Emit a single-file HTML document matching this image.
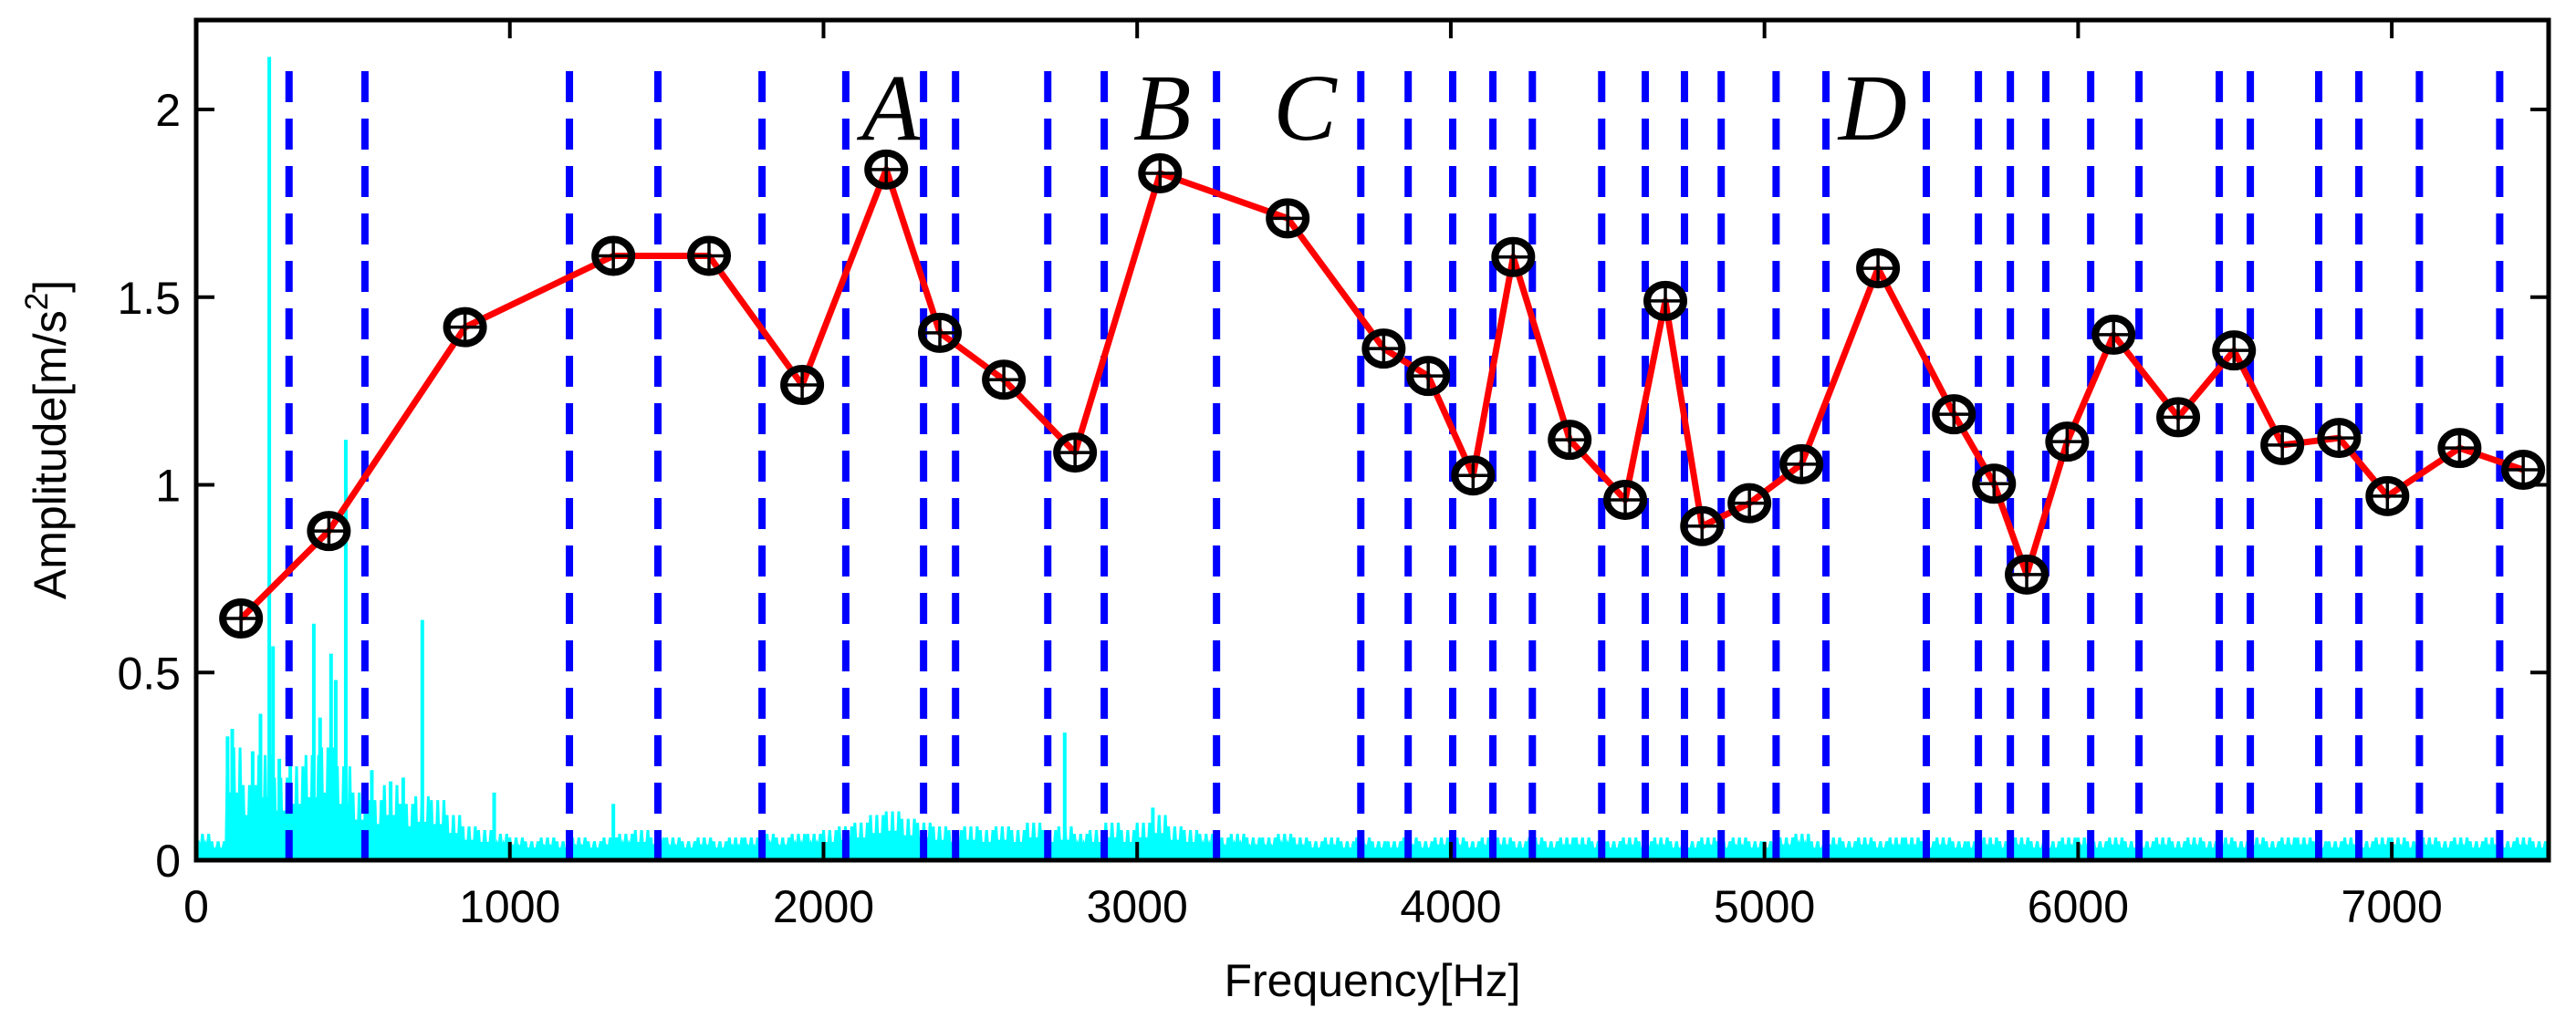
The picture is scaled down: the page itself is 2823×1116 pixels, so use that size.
<!DOCTYPE html>
<html><head><meta charset="utf-8"><style>
html,body{margin:0;padding:0;background:#fff;}
svg{display:block;font-family:"Liberation Sans",sans-serif;}
</style></head><body>
<svg id="chart" width="2823" height="1116" viewBox="0 0 2823 1116" xmlns="http://www.w3.org/2000/svg">
<g id="spec"></g>
<g id="dashes"></g>
<g id="series"></g>
<g id="axes"></g>
<g id="labels"></g>
</svg>
<script>
const xTicks=[0,1000,2000,3000,4000,5000,6000,7000];
const yTicks=[0,0.5,1,1.5,2];
const yTickLabels=["0","0.5","1","1.5","2"];
const peakFreq=[143,423,857,1330,1635,1932,2200,2371,2575,2802,3073,3480,3786,3928,4071,4199,4379,4556,4684,4801,4952,5118,5362,5604,5732,5836,5965,6113,6319,6497,6651,6832,6986,7216,7419];
const peakAmp=[0.644,0.877,1.42,1.61,1.61,1.266,1.84,1.405,1.28,1.086,1.83,1.71,1.363,1.29,1.025,1.607,1.12,0.96,1.49,0.89,0.951,1.055,1.577,1.188,1.003,0.761,1.115,1.40,1.18,1.358,1.106,1.125,0.97,1.098,1.04];
const bandFreq=[296,538,1190,1472,1804,2071,2319,2421,2715,2895,3253,3713,3864,4006,4134,4260,4481,4620,4745,4862,5037,5196,5516,5682,5784,5897,6040,6194,6450,6549,6767,6895,7088,7344];
const specStep=50;
const specHigh=[0.07,0.05,0.30,0.20,0.28,0.22,0.25,0.28,0.30,0.25,
0.18,0.16,0.20,0.15,0.17,0.16,0.12,0.09,0.08,0.07,
0.06,0.05,0.06,0.05,0.06,0.05,0.06,0.07,0.08,0.06,
0.06,0.05,0.06,0.05,0.06,0.06,0.07,0.06,0.07,0.07,
0.08,0.09,0.10,0.12,0.13,0.11,0.10,0.09,0.08,0.09,
0.08,0.09,0.08,0.10,0.08,0.09,0.07,0.08,0.10,0.08,
0.10,0.12,0.09,0.08,0.07,0.06,0.07,0.06,0.06,0.07,
0.06,0.05,0.06,0.05,0.06,0.05,0.05,0.06,0.05,0.06,
0.06,0.05,0.06,0.06,0.05,0.06,0.05,0.06,0.06,0.05,
0.05,0.06,0.05,0.06,0.05,0.05,0.06,0.05,0.06,0.05,
0.05,0.06,0.07,0.05,0.06,0.05,0.06,0.05,0.06,0.06,
0.05,0.06,0.05,0.05,0.06,0.05,0.06,0.05,0.05,0.06,
0.06,0.05,0.06,0.05,0.05,0.06,0.05,0.06,0.05,0.06,
0.05,0.06,0.05,0.06,0.06,0.05,0.05,0.06,0.05,0.06,
0.06,0.05,0.06,0.05,0.06,0.05,0.06,0.05,0.06,0.05];
const spikeFreq=[100,115,180,205,233,245,265,300,375,395,430,445,477,560,620,660,721,950,1330,2769,3050];
const spikeAmp=[0.33,0.35,0.29,0.39,2.14,0.57,0.27,0.26,0.63,0.38,0.55,0.48,1.12,0.24,0.21,0.22,0.64,0.18,0.15,0.34,0.14];
const regionText=["A","B","C","D"];
const regionFreq=[2215,3080,3535,5345];

const L=215,R=2793,T=22,B=943,XMAX=7500,YMAX=(B-T)/411.5;
const NS="http://www.w3.org/2000/svg";
const X=f=>L+f/XMAX*(R-L);
const Y=a=>B-a/YMAX*(B-T);
function mk(tag,attrs,parent){const e=document.createElementNS(NS,tag);for(const k in attrs)e.setAttribute(k,attrs[k]);parent.appendChild(e);return e;}

const spec=document.getElementById('spec');
let d="M"+X(0)+","+Y(0.02);
specHigh.forEach((v,i)=>{
  for(let j=0;j<5;j++){
    const f=i*specStep+j*10;
    const lo=0.02+((j%2)*0.01);
    const hi=v*(j%2===0?1:0.6);
    d+=" L"+X(f).toFixed(1)+","+Y(hi).toFixed(1)+" L"+X(f+5).toFixed(1)+","+Y(lo).toFixed(1);
  }
});
d+=" L"+X(XMAX)+","+Y(0.02)+" L"+X(XMAX)+","+Y(0)+" L"+X(0)+","+Y(0)+"Z";
const band=mk('path',{d:d,fill:'#00ffff',stroke:'#00ffff','stroke-width':3},spec);


spikeFreq.forEach((f,i)=>{
  const s=mk('line',{x1:X(f),x2:X(f),y1:Y(0),y2:Y(spikeAmp[i]),stroke:'#00ffff','stroke-width':4},spec);
  
  
});

const dg=document.getElementById('dashes');
bandFreq.forEach(f=>{
  const l=mk('line',{x1:X(f),x2:X(f),y1:78,y2:B,stroke:'#0000ff','stroke-width':8,'stroke-dasharray':'34 18'},dg);
  
  
});

const sg=document.getElementById('series');
const pl=mk('polyline',{points:peakFreq.map((f,i)=>X(f).toFixed(1)+","+Y(peakAmp[i]).toFixed(1)).join(" "),fill:'none',stroke:'#ff0000','stroke-width':7,'stroke-linejoin':'round'},sg);


peakFreq.forEach((f,i)=>{
  const cx=X(f),cy=Y(peakAmp[i]);
  const g=mk('g',{},sg);
  
  
  mk('line',{x1:cx-17,x2:cx+17,y1:cy,y2:cy,stroke:'#000','stroke-width':3.5},g);
  mk('line',{x1:cx,x2:cx,y1:cy-17,y2:cy+17,stroke:'#000','stroke-width':3.5},g);
  mk('ellipse',{cx:cx,cy:cy,rx:20,ry:18,fill:'none',stroke:'#000','stroke-width':8},g);
});

const ag=document.getElementById('axes');
const fr=mk('rect',{x:L,y:T,width:R-L,height:B-T,fill:'none',stroke:'#000','stroke-width':5},ag);


xTicks.forEach(v=>{
  const x=X(v);
  mk('line',{x1:x,x2:x,y1:B,y2:B-20,stroke:'#000','stroke-width':4},ag);
  mk('line',{x1:x,x2:x,y1:T,y2:T+20,stroke:'#000','stroke-width':4},ag);
  const t=mk('text',{x:x,y:1011,'font-size':50,'text-anchor':'middle'},ag);
  t.textContent=v;
  
  
});
yTicks.forEach((v,i)=>{
  const y=Y(v);
  mk('line',{x1:L,x2:L+20,y1:y,y2:y,stroke:'#000','stroke-width':4},ag);
  mk('line',{x1:R,x2:R-20,y1:y,y2:y,stroke:'#000','stroke-width':4},ag);
  const t=mk('text',{x:198,y:y+18,'font-size':50,'text-anchor':'end'},ag);
  t.textContent=yTickLabels[i];
  
  
});
const xt=mk('text',{x:(L+R)/2,y:1092,'font-size':50,'text-anchor':'middle'},ag);
xt.textContent="Frequency[Hz]";


const yt=mk('text',{x:0,y:0,'font-size':50,'text-anchor':'middle',transform:'translate(72,482) rotate(-90)'},ag);
yt.innerHTML='Amplitude[m/s<tspan dy="-20" font-size="35">2</tspan><tspan dy="20">]</tspan>';



const lg=document.getElementById('labels');
regionText.forEach((s,i)=>{
  const t=mk('text',{x:X(regionFreq[i]),y:153,'font-size':104,'font-style':'italic','text-anchor':'middle','font-family':'"Liberation Serif",serif'},lg);
  t.textContent=s;
  
  
});
</script>
</body></html>
